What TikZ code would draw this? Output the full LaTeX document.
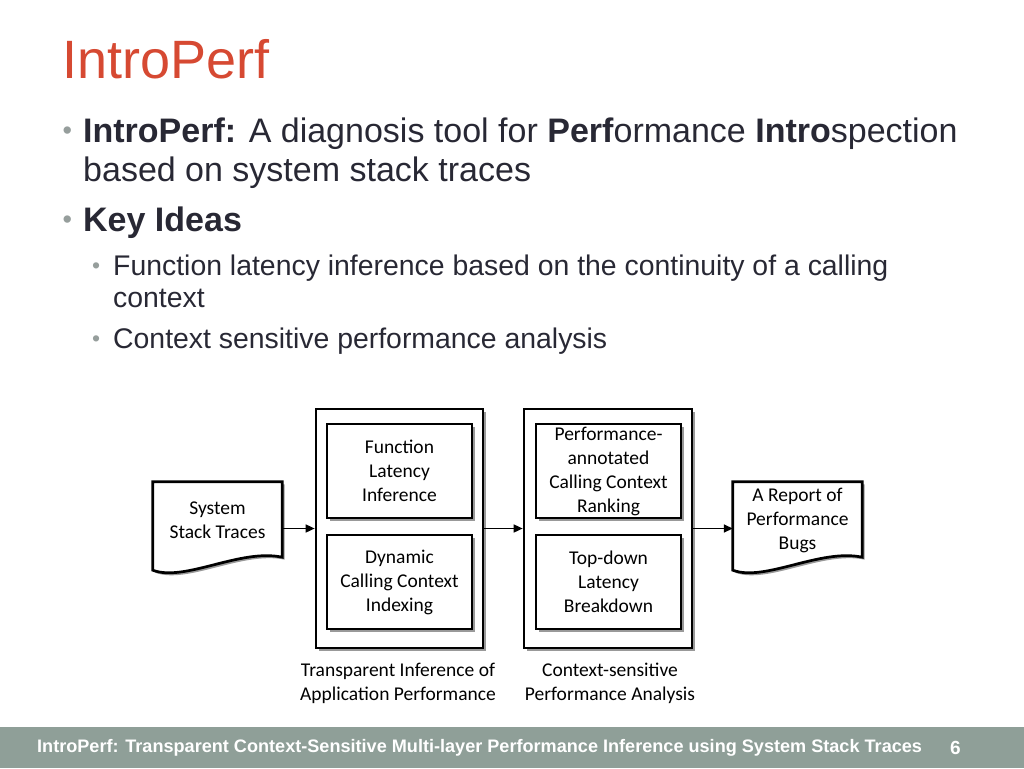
\documentclass[tikz,border=0pt]{standalone}
\usepackage{fontspec}
\setmainfont{Liberation Sans}
\newfontfamily\diagfont{Carlito}
\usetikzlibrary{arrows.meta,shadows,calc}
\definecolor{titlered}{RGB}{214,73,50}
\definecolor{bodytext}{RGB}{40,40,52}
\definecolor{bulletgray}{RGB}{150,158,156}
\definecolor{footgreen}{RGB}{143,159,152}
\begin{document}
\begin{tikzpicture}[x=1pt,y=-1pt,
  txt/.style={anchor=base west, inner sep=0pt, text=bodytext},
  bigtext/.style={font=\fontsize{34}{38}\selectfont},
  smalltext/.style={font=\fontsize{28.4}{32}\selectfont},
  bul/.style={anchor=base west, inner sep=0pt, text=bulletgray, font=\fontsize{27}{27}\selectfont},
  subbul/.style={anchor=base west, inner sep=0pt, text=bulletgray, font=\fontsize{23}{23}\selectfont},
  shad/.style={drop shadow={shadow xshift=2.5pt,shadow yshift=-2.5pt,fill=black!40,opacity=1}},
  box/.style={draw=black, line width=2.7pt, fill=white, shad, inner sep=0pt,
    font=\diagfont\fontsize{19.5}{24}\selectfont, align=center},
  docnode/.style={inner sep=0pt, minimum width=129pt, minimum height=76pt,
    font=\diagfont\fontsize{19.5}{24}\selectfont, align=center},
  docline/.style={draw=black, line width=2.7pt, fill=white, shad},
  arr/.style={-{Triangle[length=9pt,width=8pt]}, line width=1.6pt},
  captext/.style={inner sep=0pt, font=\diagfont\fontsize{19.5}{24}\selectfont, align=center}]
\useasboundingbox (0,0) rectangle (1024,768);
\fill[footgreen] (0,727) rectangle (1024,768);

% title
\node[anchor=base west, inner sep=0pt, font=\fontsize{54}{60}\selectfont, text=titlered] (title) at (62,78) {IntroPerf};

% bullets
\node[bul] (bu1) at (62.5,139.5) {•};
\node[txt, bigtext] (l1) at (83,142) {\textbf{IntroPerf:} A diagnosis tool for \textbf{Perf}ormance \textbf{Intro}spection};
\node[txt, bigtext] (l2) at (83,181) {based on system stack traces};
\node[bul] (bu2) at (62.5,228.5) {•};
\node[txt, bigtext] (l3) at (83,231) {\textbf{Key Ideas}};
\node[subbul] (bu3) at (92,273) {•};
\node[txt, smalltext] (l4) at (113,275) {Function latency inference based on the continuity of a calling};
\node[txt, smalltext] (l5) at (113,307) {context};
\node[subbul] (bu4) at (92,346) {•};
\node[txt, smalltext] (l6) at (113,348) {Context sensitive performance analysis};

% diagram
\coordinate (sstc) at (217.5,520);
\node[docnode] (sst) at (sstc) {};
\path[docline] (sst.north west) -- (sst.north east) -- ($(sst.south east)+(0,-1)$)
  .. controls ($(sst.south east)+(-42,-10)$) and ($(sst.south west)+(32,24)$) .. ($(sst.south west)+(0,12)$) -- cycle;
\node[docnode] (ssttext) at (sstc) {System\\Stack Traces};

\node[box, minimum width=167pt, minimum height=239pt] (box1) at (399.5,528.5) {};
\node[box, minimum width=145pt, minimum height=94pt] (fli) at (399.5,471) {Function\\Latency\\Inference};
\node[box, minimum width=145pt, minimum height=94pt] (dcc) at (399.5,582) {Dynamic\\Calling Context\\Indexing};

\node[box, minimum width=168pt, minimum height=239pt] (box2) at (608,528.5) {};
\node[box, minimum width=145pt, minimum height=94pt] (pac) at (608.5,471) {Performance-\\annotated\\Calling Context\\Ranking};
\node[box, minimum width=145pt, minimum height=94pt] (tdl) at (608.5,582) {Top-down\\Latency\\Breakdown};

\coordinate (repc) at (797.5,520);
\node[docnode] (rep) at (repc) {};
\path[docline] (rep.north west) -- (rep.north east) -- ($(rep.south east)+(0,-1)$)
  .. controls ($(rep.south east)+(-42,-10)$) and ($(rep.south west)+(32,24)$) .. ($(rep.south west)+(0,12)$) -- cycle;
\node[docnode] (reptext) at (repc) {A Report of\\Performance\\Bugs};

\draw[arr] (box1.west -| sst.east) -- (box1.west);
\draw[arr] (box1.east) -- (box2.west);
\draw[arr] (box2.east) -- (box2.east -| rep.west);

\node[captext] (c1) at (398,683) {Transparent Inference of\\Application Performance};
\node[captext] (c2) at (610,683) {Context-sensitive\\Performance Analysis};

% footer
\node[anchor=west, inner sep=0pt, text=white, font=\bfseries\fontsize{18.1}{20}\selectfont] (foot) at (37,748) {IntroPerf: Transparent Context-Sensitive Multi-layer Performance Inference using System Stack Traces};
\node[anchor=west, inner sep=0pt, text=white, font=\bfseries\fontsize{19}{20}\selectfont] (pg) at (950,748) {6};
\end{tikzpicture}
\end{document}
